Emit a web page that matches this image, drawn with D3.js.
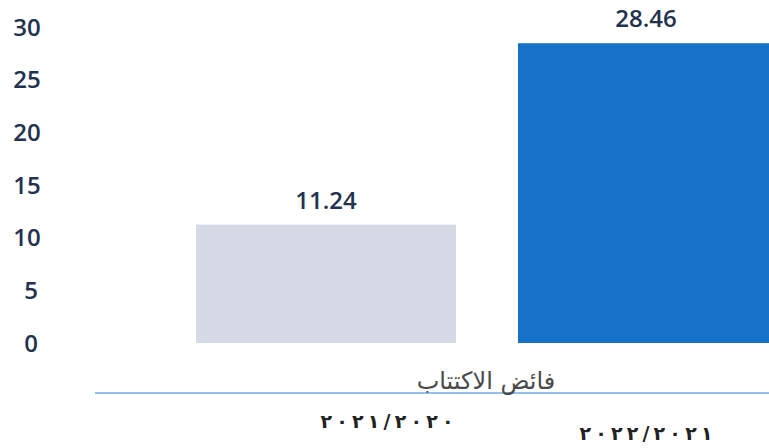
<!DOCTYPE html>
<html>
<head>
<meta charset="utf-8">
<script src="https://cdn.jsdelivr.net/npm/d3@7"></script>
<style>
  body { margin: 0; background: #fff; }
  svg { display: block; }
</style>
</head>
<body>
<div id="chart"></div>
<script>
const categories = ["٢٠٢١/٢٠٢٠", "٢٠٢٢/٢٠٢١"];
const values = [11.24, 28.46];
const yTicks = [0, 5, 10, 15, 20, 25, 30];
const axisTitle = "فائض الاكتتاب";
const barColors = ["#d5dae6", "#1672c6"];

const W = 769, H = 448;
const svg = d3.select("#chart").append("svg")
    .attr("width", W)
    .attr("height", H);

const x = d3.scaleBand().domain(categories).range([196, 778]).paddingInner(0.1925).paddingOuter(0);
const y = d3.scaleLinear().domain([0, 30]).range([343, 27]);

// y tick labels, no axis line
svg.append("g")
    .selectAll("text")
    .data(yTicks)
    .enter().append("text")
    .attr("x", d => d < 10 ? 31 : 27)
    .attr("y", d => y(d))
    .attr("dy", "0.36em")
    .attr("text-anchor", "middle")
    .attr("font-family", "'Open Sans', sans-serif")
    .attr("font-weight", 600)
    .attr("font-size", 24)
    .attr("fill", "#22324f")
    .text(d => d);

// bars
svg.selectAll(".bar")
    .data(values)
    .enter().append("rect")
    .attr("class", "bar")
    .attr("x", (d, i) => x(categories[i]))
    .attr("y", d => y(d))
    .attr("width", x.bandwidth())
    .attr("height", d => y(0) - y(d))
    .attr("fill", (d, i) => barColors[i]);

// value labels
svg.selectAll(".val")
    .data(values)
    .enter().append("text")
    .attr("class", "val")
    .attr("x", (d, i) => x(categories[i]) + x.bandwidth() / 2 - (i === 1 ? 2 : 0))
    .attr("y", d => y(d) - 16)
    .attr("text-anchor", "middle")
    .attr("font-family", "'Open Sans', sans-serif")
    .attr("font-weight", 600)
    .attr("font-size", 24)
    .attr("fill", "#22324f")
    .text(d => d.toFixed(2));

// baseline
svg.append("line")
    .attr("x1", 95).attr("x2", W)
    .attr("y1", 393).attr("y2", 393)
    .attr("stroke", "#74aae6")
    .attr("stroke-width", 1.5);

// axis title
svg.append("text")
    .attr("x", 486)
    .attr("y", 389)
    .attr("text-anchor", "middle")
    .attr("font-family", "'DejaVu Sans', sans-serif")
    .attr("font-size", 24)
    .attr("fill", "#4a4a4a")
    .text(axisTitle);

// category labels
svg.selectAll(".cat")
    .data(categories)
    .enter().append("text")
    .attr("class", "cat")
    .attr("x", (d, i) => x(d) + x.bandwidth() / 2 + (i === 0 ? 61 : -2))
    .attr("y", (d, i) => i === 0 ? 428 : 440)
    .attr("text-anchor", "middle")
    .attr("direction", "ltr")
    .attr("font-family", "'DejaVu Sans', sans-serif")
    .attr("font-weight", "bold")
    .attr("font-size", 19)
    .attr("textLength", 133)
    .attr("lengthAdjust", "spacing")
    .attr("fill", "#222")
    .text(d => d);
</script>
</body>
</html>
